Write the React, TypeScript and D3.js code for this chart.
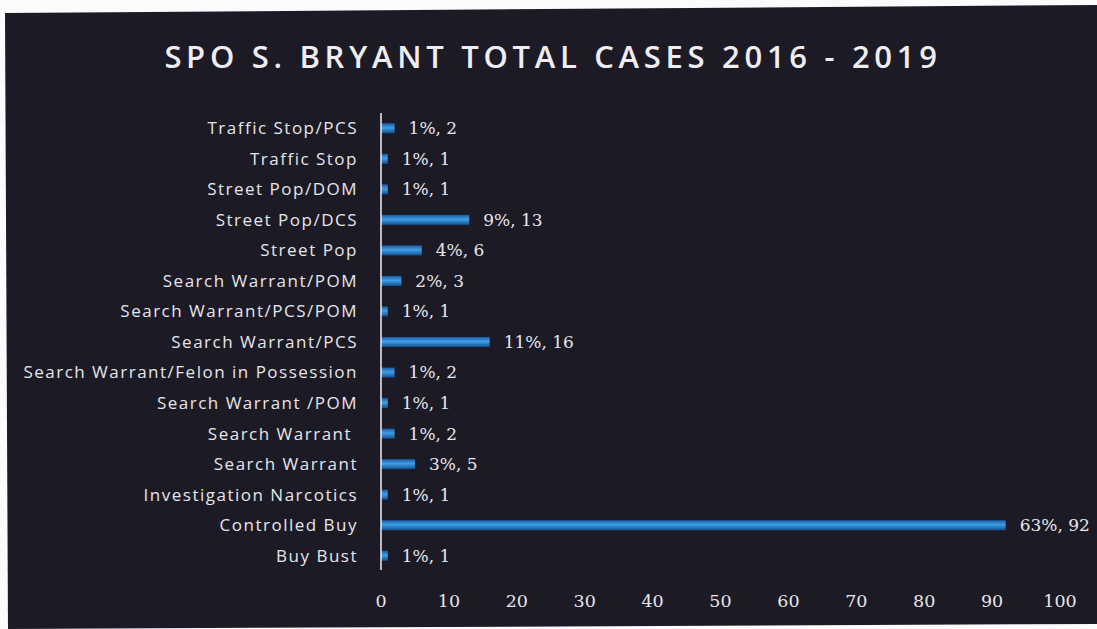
import React from "react";
import * as d3 from "d3";

const categories = [
  "Traffic Stop/PCS",
  "Traffic Stop",
  "Street Pop/DOM",
  "Street Pop/DCS",
  "Street Pop",
  "Search Warrant/POM",
  "Search Warrant/PCS/POM",
  "Search Warrant/PCS",
  "Search Warrant/Felon in Possession",
  "Search Warrant /POM",
  "Search Warrant ",
  "Search Warrant",
  "Investigation Narcotics",
  "Controlled Buy",
  "Buy Bust",
];
const values = [2, 1, 1, 13, 6, 3, 1, 16, 2, 1, 2, 5, 1, 92, 1];
const percents = ["1%", "1%", "1%", "9%", "4%", "2%", "1%", "11%", "1%", "1%", "1%", "3%", "1%", "63%", "1%"];
const xTicks = [0, 10, 20, 30, 40, 50, 60, 70, 80, 90, 100];

const W = 1097;
const H = 629;

export default function App() {
  const x = d3.scaleLinear().domain([0, 100]).range([381, 1060]);
  const y = d3.scaleBand<number>().domain(d3.range(categories.length)).range([113, 571]).padding(0);
  const barH = 10;
  const textColor = "#e6e6ea";
  return (
    <svg width={W} height={H} style={{ position: "absolute", left: 0, top: 0 }}>
      <defs>
        <linearGradient id="barGrad" x1="0" y1="0" x2="0" y2="1">
          <stop offset="0" stopColor="#1a5aa0" />
          <stop offset="0.45" stopColor="#3f9fe8" />
          <stop offset="1" stopColor="#13508f" />
        </linearGradient>
      </defs>
      <rect x={0} y={0} width={W} height={H} fill="#fbfbfd" />
      <polygon points="5,13 1097,5 1097,624 8,629" fill="#1c1a24" />
      <text
        x={553}
        y={68}
        textAnchor="middle"
        fill="#eeeef2"
        fontFamily="'Open Sans', Lato, sans-serif"
        fontWeight={600}
        fontSize={31}
        letterSpacing={4.7}
      >
        SPO S. BRYANT TOTAL CASES 2016 - 2019
      </text>
      {categories.map((c, i) => {
        const cy = (y(i) as number) + y.bandwidth() / 2;
        return (
          <g key={i}>
            <text
              x={358}
              y={cy}
              dy="0.35em"
              textAnchor="end"
              fill={textColor}
              fontFamily="'Open Sans', Lato, sans-serif"
              fontSize={17}
              letterSpacing={1.5}
              style={{ whiteSpace: "pre" }}
            >
              {c}
            </text>
            <rect
              x={x(0)}
              y={cy - barH / 2}
              width={x(values[i]) - x(0)}
              height={barH}
              fill="url(#barGrad)"
            />
            <text
              x={x(values[i]) + 14}
              y={cy}
              dy="0.35em"
              fill={textColor}
              fontFamily="'DejaVu Serif', serif"
              fontSize={17}
            >
              {`${percents[i]}, ${values[i]}`}
            </text>
          </g>
        );
      })}
      <line x1={x(0)} x2={x(0)} y1={113} y2={570} stroke="#f0f0f4" strokeWidth={1.5} />
      {xTicks.map((t) => (
        <text
          key={t}
          x={x(t)}
          y={601}
          dy="0.35em"
          textAnchor="middle"
          fill={textColor}
          fontFamily="'DejaVu Serif', serif"
          fontSize={17.5}
        >
          {t}
        </text>
      ))}
    </svg>
  );
}
